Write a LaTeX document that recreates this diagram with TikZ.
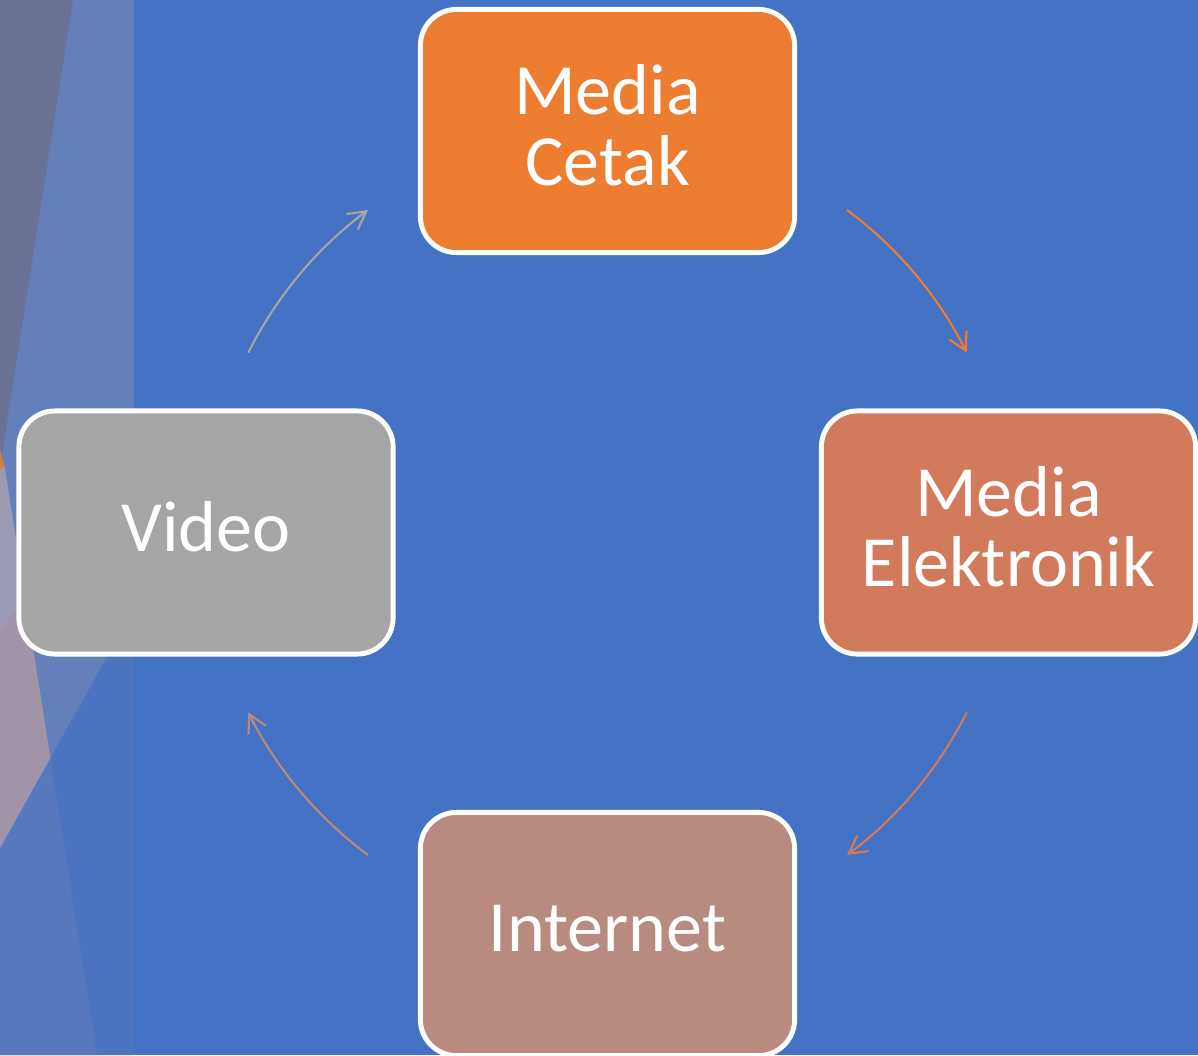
\documentclass[tikz,border=0pt]{standalone}
\usepackage{fontspec}
\setmainfont{Carlito}
\usetikzlibrary{arrows.meta}
\definecolor{slidebg}{HTML}{4472C4}
\definecolor{stripup}{HTML}{6380BA}
\definecolor{stripdown}{HTML}{4B74C1}
\definecolor{stripleft}{HTML}{5779BE}
\definecolor{slatec}{HTML}{6A7298}
\definecolor{lilac}{HTML}{9C9BB6}
\definecolor{mauve}{HTML}{A294A8}
\definecolor{sliver}{HTML}{D57F3D}
\definecolor{cetakc}{HTML}{ED7D31}
\definecolor{elekc}{HTML}{D27A5C}
\definecolor{netc}{HTML}{B88A80}
\definecolor{vidc}{HTML}{A5A5A5}
\begin{document}
\begin{tikzpicture}[x=0.01cm,y=-0.01cm,
	box/.style={draw=white, line width=1.4pt, rounded corners=0.36cm, minimum width=3.74cm, minimum height=2.43cm, inner sep=0pt, align=center, text=white, font=\fontsize{20.5}{20}\selectfont, execute at end node={\rule[-0.12cm]{0pt}{0pt}}},
	flow/.style={line width=0.6pt, -{Straight Barb[length=5pt,width=5.5pt]}}]
		\useasboundingbox (0,0) rectangle (1198,1055);
		\fill[slidebg] (0,0) rectangle (1198,1055);
		
		% left strip
		\fill[stripup] (0,0) rectangle (134,1055);
		\fill[stripdown] (0,848) -- (134,609) -- (134,1055) -- (0,1055) -- cycle;
		\fill[stripleft] (0,848) -- (50.4,758) -- (97,1055) -- (0,1055) -- cycle;
		\fill[slatec] (0,0) -- (73,0) -- (0,467) -- cycle;
		\fill[sliver] (0,450) -- (5,468) -- (0,490) -- cycle;
		\fill[lilac] (0,470) -- (4.7,467) -- (25.4,599) -- (0,632) -- cycle;
		\fill[mauve] (0,632) -- (25.4,599) -- (50.4,758) -- (0,848) -- cycle;
		
		\coordinate (hub) at (607.5,532.5);
		
		\draw[flow, cetakc] (hub) ++(53.4:4.015cm) arc[start angle=53.4, end angle=26.6, radius=4.015cm];
		\draw[flow, elekc] (hub) ++(-26.6:4.015cm) arc[start angle=-26.6, end angle=-53.4, radius=4.015cm];
		\draw[flow, netc] (hub) ++(-126.6:4.015cm) arc[start angle=-126.6, end angle=-153.4, radius=4.015cm];
		\draw[flow, vidc] (hub) ++(153.4:4.015cm) arc[start angle=153.4, end angle=126.6, radius=4.015cm];
		
		\node[box, fill=cetakc] (cetak) at (607.5,131) {Media\\Cetak};
		\node[box, fill=elekc] (elek) at (1008.5,532.5) {Media\\Elektronik};
		\node[box, fill=netc] (net) at (607.5,934) {Internet};
		\node[box, fill=vidc] (vid) at (206,532.5) {Video};
\end{tikzpicture}
\end{document}
